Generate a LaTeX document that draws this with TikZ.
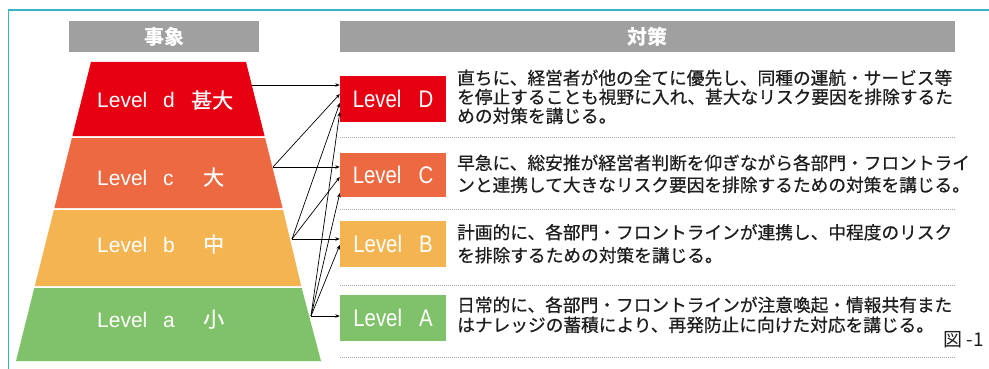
\documentclass[tikz,border=0pt]{standalone}
\usepackage{fontspec}
\setmainfont{Liberation Sans}
\newfontfamily\jp{Noto Sans CJK JP}
\newfontfamily\jpm[FakeBold=0.6]{Noto Sans CJK JP}
\newfontfamily\lvlfont[FakeStretch=0.85]{Liberation Sans}
\usetikzlibrary{arrows.meta}
\definecolor{lvD}{HTML}{E60012}
\definecolor{lvC}{HTML}{EC6941}
\definecolor{lvB}{HTML}{F5B452}
\definecolor{lvA}{HTML}{80C26A}
\definecolor{hdr}{HTML}{A0A0A0}
\definecolor{frame}{HTML}{35B4C1}
\definecolor{txt}{HTML}{1E1E1E}
\definecolor{sep}{HTML}{A8A8A8}
\begin{document}
\begin{tikzpicture}[x=1pt,y=-1pt,
  hdrbox/.style={fill=hdr,inner sep=0,text=white,font={\jp\bfseries\fontsize{20pt}{24pt}\selectfont}},
  lvbox/.style={inner sep=0,minimum width=106pt,text=white,font={\lvlfont\fontsize{24pt}{28pt}\selectfont}},
  pyrlabel/.style={anchor=base west,inner sep=0,text=white,font={\fontsize{21pt}{24pt}\selectfont}},
  ln/.style={anchor=base west,inner sep=0,text=txt,font={\jpm\fontsize{17.7pt}{20pt}\selectfont}},
  conn/.style={line width=0.7pt,-{Stealth[length=4.5pt,width=3.6pt]}},
  sepline/.style={sep,line width=0.8pt,dash pattern=on 1pt off 1pt}
]
\useasboundingbox (0,0) rectangle (989,369);
\fill[white] (0,0) rectangle (989,369);
% frame
\draw[frame,line width=1.8pt] (8.5,369) -- (8.5,10.3) -- (989,10.3);

% headers
\node[hdrbox,minimum width=190pt,minimum height=31pt] (h1) at (164,36.5) {事象};
\node[hdrbox,minimum width=615pt,minimum height=31pt] (h2) at (647.5,36.5) {対策};

% pyramid bands
\fill[lvD] (91,62) -- (246,62) -- (264.6,136) -- (72.4,136) -- cycle;
\fill[lvC] (71.9,138) -- (265.1,138) -- (282.6,208) -- (54.4,208) -- cycle;
\fill[lvB] (53.9,210) -- (283.1,210) -- (301.2,286) -- (34.8,286) -- cycle;
\fill[lvA] (34.3,288) -- (301.7,288) -- (321,361) -- (16,361) -- cycle;

\node[pyrlabel] (pd) at (97,108) {\makebox[66pt][l]{Level}\makebox[28pt][l]{d}{\jpm 甚大}};
\node[pyrlabel] (pc) at (97,185) {\makebox[66pt][l]{Level}\makebox[40pt][l]{c}{\jpm 大}};
\node[pyrlabel] (pb) at (97,252) {\makebox[66pt][l]{Level}\makebox[40pt][l]{b}{\jpm 中}};
\node[pyrlabel] (pa) at (97,327) {\makebox[66pt][l]{Level}\makebox[40pt][l]{a}{\jpm 小}};

% arrow origins on the pyramid edge
\coordinate (od) at (252,85);
\coordinate (oc) at (273,167);
\coordinate (ob) at (292,239);
\coordinate (oa) at (311,316);

% level boxes
\node[lvbox,fill=lvD,minimum height=46pt] (LD) at (393,99) {Level\hspace{17pt}D};
\node[lvbox,fill=lvC,minimum height=44pt] (LC) at (393,175) {Level\hspace{17pt}C};
\node[lvbox,fill=lvB,minimum height=46pt] (LB) at (393,243.5) {Level\hspace{17pt}B};
\node[lvbox,fill=lvA,minimum height=46pt] (LA) at (393,318) {Level\hspace{17pt}A};

% connectors
\draw[conn] (od) -- ([yshift=14pt]LD.west);
\draw[conn] (oc) -- ([yshift=5pt]LD.west);
\draw[conn] (ob) -- ([yshift=-4pt]LD.west);
\draw[conn] (oa) -- ([yshift=-13pt]LD.west);
\draw[conn] (oc) -- ([yshift=8pt]LC.west);
\draw[conn] (ob) -- ([yshift=-2pt]LC.west);
\draw[conn] (oa) -- ([yshift=-18pt]LC.west);
\draw[conn] (ob) -- ([yshift=4.5pt]LB.west);
\draw[conn] (oa) -- ([yshift=-1.5pt]LB.west);
\draw[conn] (oa) -- ([yshift=2pt]LA.west);

% texts
\node[ln] (d1) at (457,84.6) {直ちに、経営者が他の全てに優先し、同種の運航・サービス等};
\node[ln] (d2) at (457,103.6) {を停止することも視野に入れ、甚大なリスク要因を排除するた};
\node[ln] (d3) at (457,122.6) {めの対策を講じる。};
\node[ln] (c1) at (457,169.6) {早急に、総安推が経営者判断を仰ぎながら各部門・フロントライ};
\node[ln] (c2) at (457,191.6) {ンと連携して大きなリスク要因を排除するための対策を講じる。};
\node[ln] (b1) at (457,239) {計画的に、各部門・フロントラインが連携し、中程度のリスク};
\node[ln] (b2) at (457,262) {を排除するための対策を講じる。};
\node[ln] (a1) at (457,311.6) {日常的に、各部門・フロントラインが注意喚起・情報共有また};
\node[ln] (a2) at (457,331.6) {はナレッジの蓄積により、再発防止に向けた対応を講じる。};
\node[ln,font={\jp\fontsize{19pt}{22pt}\selectfont}] (fig) at (943,346.5) {図 -1};

% separators
\draw[sepline] (340,137) -- (955,137);
\draw[sepline] (340,209) -- (955,209);
\draw[sepline] (340,285) -- (955,285);
\draw[sepline] (340,357) -- (955,357);
\end{tikzpicture}
\end{document}
